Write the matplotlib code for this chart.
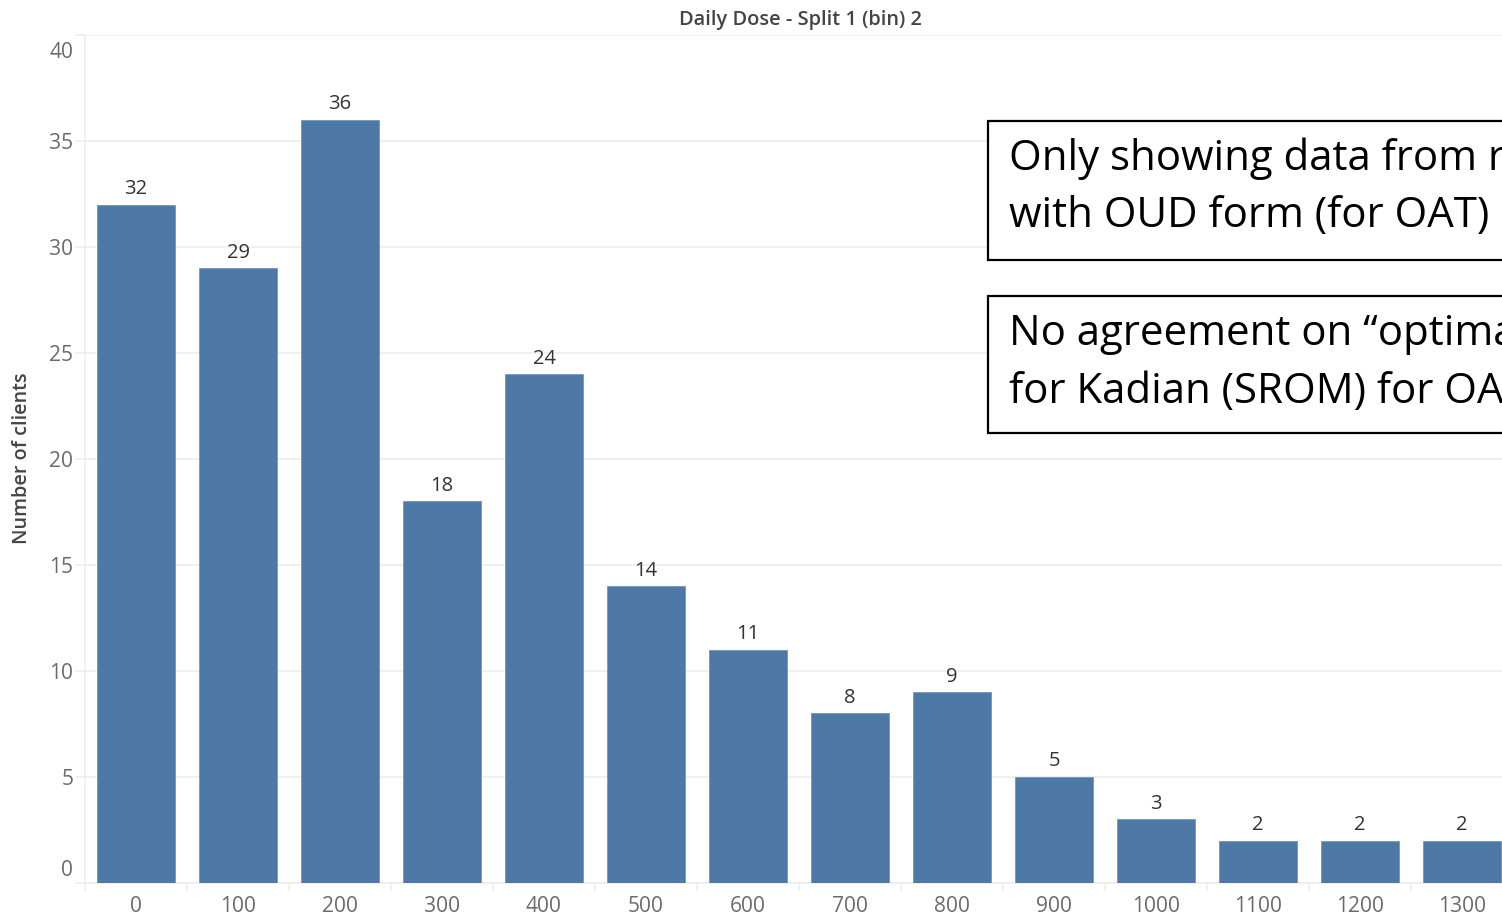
import matplotlib
matplotlib.use("Agg")
import matplotlib.pyplot as plt
from matplotlib.patches import Rectangle
from matplotlib.transforms import ScaledTranslation
import numpy as np

# Daily dose bins (mg) and number of clients in each bin
dose_bins = [0, 100, 200, 300, 400, 500, 600, 700, 800, 900, 1000, 1100, 1200, 1300]
clients = [32, 29, 36, 18, 24, 14, 11, 8, 9, 5, 3, 2, 2, 2]
y_ticks = [0, 5, 10, 15, 20, 25, 30, 35, 40]

title = "Daily Dose - Split 1 (bin) 2"
y_label = "Number of clients"
note_top = ["Only showing data from records", "with OUD form (for OAT)"]
note_bottom = ["No agreement on \u201coptimal\u201d dose", "for Kadian (SROM) for OAT"]

BAR = "#4e79a7"
GRID = "#ededed"
TICK_TXT = "#6b6b6b"
DARK_TXT = "#333333"
UI_FONT = "Open Sans"
NOTE_FONT = "Open Sans"

W, H = 1502, 916
fig = plt.figure(figsize=(W / 100, H / 100), dpi=100)
renderer = fig.canvas.get_renderer()


def fx(px):
    return px / W


def fy(py):
    return 1 - py / H


def fit_size(s, target_px, family, weight="normal", ref=20):
    """Font size at which string s renders target_px wide."""
    t = fig.text(0, 0, s, fontsize=ref, family=family, fontweight=weight)
    w = t.get_window_extent(renderer).width
    t.remove()
    return ref * target_px / w


tick_size = fit_size("1000", 48, UI_FONT)
value_size = fit_size("36", 23, UI_FONT)
title_size = fit_size(title, 243, UI_FONT, "semibold")
ylabel_size = fit_size(y_label, 170, UI_FONT, "semibold")
note_size = fit_size(note_top[1], 480, NOTE_FONT)

ax = fig.add_axes([fx(85), fy(883), (1513 - 85) / W, (883 - 35) / H])
x = np.arange(len(dose_bins))
ax.bar(x, clients, width=0.755, color=BAR, edgecolor="#7096c0",
       linewidth=0.6, zorder=3)
ax.set_xlim(-0.5, len(dose_bins) - 0.5)
ax.set_ylim(0, 40)

# value labels above bars
for xi, v in zip(x, clients):
    ax.annotate(f"{v}", (xi, v), xytext=(0, 4), textcoords="offset points",
                ha="center", va="bottom", fontsize=value_size, family=UI_FONT,
                color=DARK_TXT, zorder=4)

# y axis: light gridlines with short ticks extending left
ax.set_yticks(y_ticks)
ax.set_yticklabels([str(t) for t in y_ticks])
ax.yaxis.grid(True, color=GRID, linewidth=1.2, zorder=0)
ax.tick_params(axis="y", length=7, width=1.2, color=GRID, pad=1.5,
               labelsize=tick_size, labelcolor=TICK_TXT)
for lab in ax.get_yticklabels():
    lab.set_family(UI_FONT)

# x axis: category labels, minor ticks at cell boundaries
ax.set_xticks(x)
ax.set_xticklabels([str(b) for b in dose_bins])
ax.set_xticks(np.arange(-0.5, len(dose_bins), 1.0), minor=True)
ax.tick_params(axis="x", which="major", length=0, pad=9, labelsize=tick_size,
               labelcolor=TICK_TXT)
ax.tick_params(axis="x", which="minor", length=6, width=1.2, color=GRID)
for lab in ax.get_xticklabels():
    lab.set_family(UI_FONT)

for side in ("top", "right"):
    ax.spines[side].set_visible(False)
for side in ("left", "bottom"):
    ax.spines[side].set_color(GRID)
    ax.spines[side].set_linewidth(1.2)

# keep the end labels inside the axis range
fig.canvas.draw()
shift = 15 / 100
for lab in ax.get_yticklabels():
    if lab.get_text() == "40":
        lab.set_transform(lab.get_transform() + ScaledTranslation(0, -shift, fig.dpi_scale_trans))
    elif lab.get_text() == "0":
        lab.set_transform(lab.get_transform() + ScaledTranslation(0, shift, fig.dpi_scale_trans))

ax.set_ylabel(y_label, fontsize=ylabel_size, family=UI_FONT,
              fontweight="semibold", color="#444444")
ax.yaxis.label.set_va("center")
ax.yaxis.set_label_coords((22 - 85) / 1428, (883 - 458) / 848)

fig.text(fx(800), fy(20), title, ha="center", va="center", fontsize=title_size,
         family=UI_FONT, fontweight="semibold", color="#444444")

# annotation boxes
for (top, bot), lines, baselines in [
    ((121, 260), note_top, (170, 227)),
    ((296, 433), note_bottom, (345, 403)),
]:
    fig.patches.append(Rectangle((fx(988), fy(bot)), fx(700), (bot - top) / H,
                                 transform=fig.transFigure, facecolor="white",
                                 edgecolor="black", linewidth=1.6, zorder=5))
    for line, b in zip(lines, baselines):
        fig.text(fx(1009), fy(b), line, ha="left", va="baseline",
                 fontsize=note_size, family=NOTE_FONT, color="black", zorder=6)

fig.savefig("out.png", dpi=100)
